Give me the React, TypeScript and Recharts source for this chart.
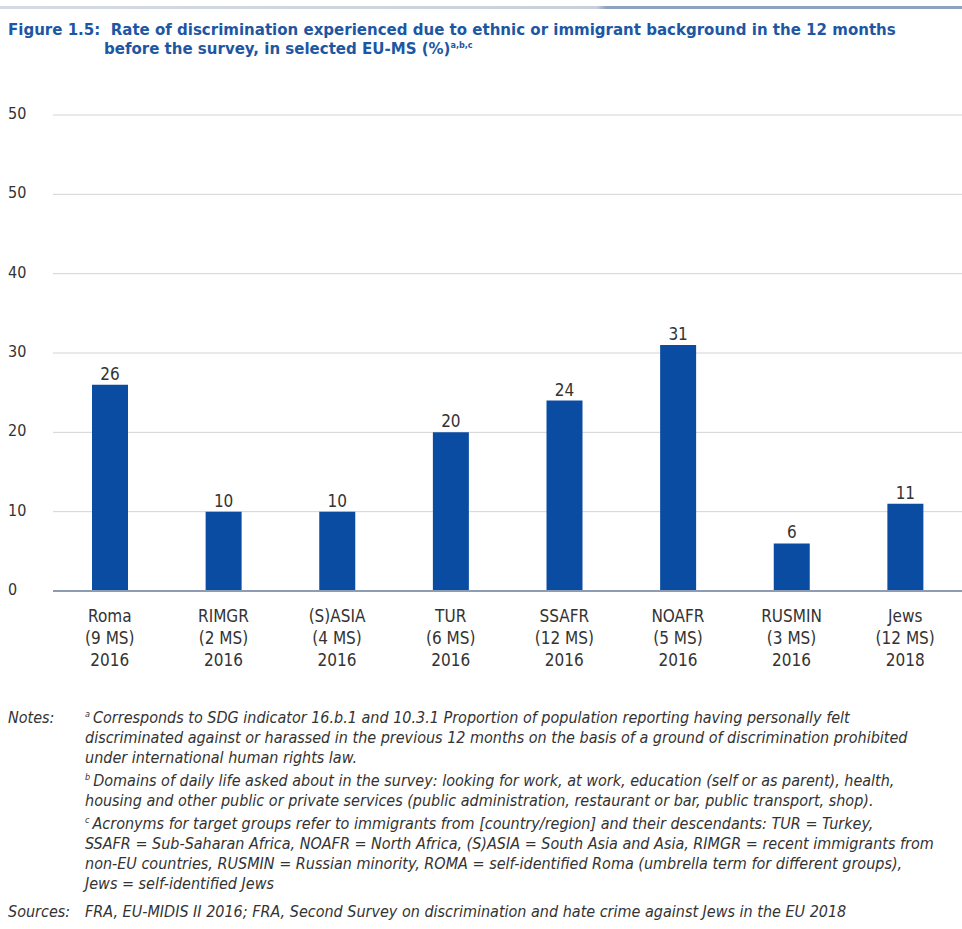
import React from "react";
import { BarChart, Bar, XAxis, YAxis, CartesianGrid, LabelList } from "recharts";

const categories = ["Roma", "RIMGR", "(S)ASIA", "TUR", "SSAFR", "NOAFR", "RUSMIN", "Jews"];
const memberStates = ["(9 MS)", "(2 MS)", "(4 MS)", "(6 MS)", "(12 MS)", "(5 MS)", "(3 MS)", "(12 MS)"];
const years = ["2016", "2016", "2016", "2016", "2016", "2016", "2016", "2018"];
const rates = [26, 10, 10, 20, 24, 31, 6, 11];
const yTicks = [0, 10, 20, 30, 40, 50, 60];
const yTickLabels = ["0", "10", "20", "30", "40", "50", "50"];

const data = categories.map((c, i) => ({ name: c, ms: memberStates[i], year: years[i], value: rates[i] }));

const FONT = "'Liberation Sans Narrow', 'DejaVu Sans Condensed', 'Open Sans', sans-serif";
const BLUE = "#0b4ca3";
const TEXT = "#333";

const XTick = (props: any) => {
  const { x, y, payload, index } = props;
  const d = data[index] || data.find((r) => r.name === payload.value);
  return (
    <g>
      <text x={x} y={y + 23} textAnchor="middle" fontSize={17} fill={TEXT} fontFamily={FONT}>{d.name}</text>
      <text x={x} y={y + 45} textAnchor="middle" fontSize={17} fill={TEXT} fontFamily={FONT}>{d.ms}</text>
      <text x={x} y={y + 67} textAnchor="middle" fontSize={17} fill={TEXT} fontFamily={FONT}>{d.year}</text>
    </g>
  );
};

const YTick = (props: any) => {
  const { y, payload } = props;
  const idx = yTicks.indexOf(payload.value);
  return (
    <text x={8} y={y + 4} textAnchor="start" fontSize={16} fill={TEXT} fontFamily={FONT}>
      {yTickLabels[idx]}
    </text>
  );
};

const noteStyle: React.CSSProperties = {
  position: "absolute",
  fontFamily: FONT,
  fontStyle: "italic",
  fontSize: 16,
  color: TEXT,
  lineHeight: "20px",
  whiteSpace: "nowrap",
};

const Sup = ({ t }: { t: string }) => (
  <span style={{ fontSize: 9, position: "relative", top: -6, lineHeight: 0, marginRight: 3 }}>{t}</span>
);

export default function App() {
  return (
    <div style={{ position: "absolute", left: 0, top: 0, width: 962, height: 929, background: "#fff", overflow: "hidden" }}>
      <div style={{ position: "absolute", left: 0, top: 6, width: 962, height: 3, background: "linear-gradient(to right, #d6dbe3 0%, #c9d0da 62%, #8ea3bf 63%, #8ea3bf 100%)" }} />
      <div style={{ position: "absolute", left: 8, top: 20, fontFamily: FONT, fontWeight: "bold", fontSize: 16.7, color: "#1d57a4", lineHeight: "19px", whiteSpace: "nowrap" }}>
        <div>Figure 1.5:&nbsp; Rate of discrimination experienced due to ethnic or immigrant background in the 12 months</div>
        <div style={{ paddingLeft: 96 }}>before the survey, in selected EU-MS (%)<span style={{ fontSize: 9, position: "relative", top: -6, lineHeight: 0 }}>a,b,c</span></div>
      </div>
      <div style={{ position: "absolute", left: 0, top: 0 }}>
        <BarChart width={962} height={680} data={data} margin={{ top: 115, right: 0, left: 0, bottom: 0 }} barSize={36}>
          <CartesianGrid horizontal vertical={false} stroke="#d3d3d3" />
          <YAxis width={53} domain={[0, 60]} ticks={yTicks} axisLine={false} tickLine={false} tick={<YTick />} interval={0} />
          <XAxis dataKey="name" axisLine={{ stroke: "#8d9cb3", strokeWidth: 2 }} tickLine={false} tick={<XTick />} interval={0} height={89} />
          <Bar dataKey="value" fill={BLUE} isAnimationActive={false}>
            <LabelList dataKey="value" position="top" offset={5} fontSize={17} fill={TEXT} fontFamily={FONT} />
          </Bar>
        </BarChart>
      </div>
      <div style={{ ...noteStyle, left: 8, top: 708 }}>Notes:</div>
      <div style={{ ...noteStyle, left: 85, top: 708 }}>
        <div><Sup t="a" />Corresponds to SDG indicator 16.b.1 and 10.3.1 Proportion of population reporting having personally felt</div>
        <div>discriminated against or harassed in the previous 12 months on the basis of a ground of discrimination prohibited</div>
        <div>under international human rights law.</div>
        <div style={{ marginTop: 3 }}><Sup t="b" />Domains of daily life asked about in the survey: looking for work, at work, education (self or as parent), health,</div>
        <div>housing and other public or private services (public administration, restaurant or bar, public transport, shop).</div>
        <div style={{ marginTop: 3 }}><Sup t="c" />Acronyms for target groups refer to immigrants from [country/region] and their descendants: TUR = Turkey,</div>
        <div>SSAFR = Sub-Saharan Africa, NOAFR = North Africa, (S)ASIA = South Asia and Asia, RIMGR = recent immigrants from</div>
        <div>non-EU countries, RUSMIN = Russian minority, ROMA = self-identified Roma (umbrella term for different groups),</div>
        <div>Jews = self-identified Jews</div>
      </div>
      <div style={{ ...noteStyle, left: 8, top: 902 }}>Sources:</div>
      <div style={{ ...noteStyle, left: 85, top: 902 }}>FRA, EU-MIDIS II 2016; FRA, Second Survey on discrimination and hate crime against Jews in the EU 2018</div>
    </div>
  );
}
